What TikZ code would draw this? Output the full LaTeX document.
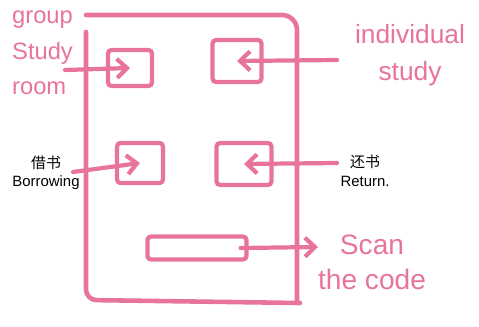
\documentclass[tikz,border=0pt]{standalone}
\usepackage{fontspec}
\setmainfont{Liberation Sans}
\newfontfamily\cjk{Noto Sans CJK SC}
\usetikzlibrary{arrows.meta}
\definecolor{markerPink}{RGB}{232,116,155}
\begin{document}
\begin{tikzpicture}[x=0.02cm, y=-0.02cm,
    mapFrame/.style={markerPink,line width=2.6pt,line cap=round},
    mapBox/.style={draw=markerPink,line width=2.4pt,rounded corners=2pt,inner sep=0pt},
    mapArrow/.style={-{Straight Barb[length=2mm,width=3.8mm]},markerPink,line width=2.4pt,line cap=round},
    mapPink/.style={text=markerPink,align=center},
    mapInk/.style={align=center,font=\fontsize{8.5}{10.5}\selectfont},
]
\useasboundingbox (0,0) rectangle (479,327);
% outer frame
\draw[mapFrame,rounded corners=6pt] (86,32) -- (86,300) -- (300,303);
\draw[mapFrame] (86,15) -- (282,15) to[out=0,in=90] (297,30) -- (297,303);
% rooms
\node[mapBox,minimum width=0.88cm,minimum height=0.72cm] (grpBox) at (130,68) {};
\node[mapBox,minimum width=0.98cm,minimum height=0.84cm] (indBox) at (237,61) {};
\node[mapBox,minimum width=0.92cm,minimum height=0.80cm] (borBox) at (140,163) {};
\node[mapBox,minimum width=1.10cm,minimum height=0.84cm] (retBox) at (244,164) {};
\node[mapBox,minimum width=1.98cm,minimum height=0.46cm] (scanBox) at (197,248) {};
% labels
\node[mapPink,align=left,anchor=north west,font=\fontsize{13.5}{20}\selectfont] (grpText) at (6,5) {group\\Study\\room};
\node[mapPink,font=\fontsize{15}{21}\selectfont] (indText) at (410,55) {individual\\study};
\node[mapPink,font=\fontsize{16}{20}\selectfont] (scanText) at (372,262) {Scan\\the code};
\node[mapInk] (borText) at (46,173) {{\cjk 借书}\\Borrowing};
\node[mapInk] (retText) at (365,171) {{\cjk 还书}\\Return.};
% arrows
\coordinate (grpTail) at (65,70);
\coordinate (indTail) at (337,60);
\coordinate (borTail) at (73,172);
\coordinate (retTail) at (337,163);
\coordinate (scanTip) at (318,247);
\draw[mapArrow] (grpTail) -- (grpBox.center);
\draw[mapArrow] (indTail) -- (indBox.center);
\draw[mapArrow] (borTail) -- (borBox.center);
\draw[mapArrow] (retTail) -- (retBox.center);
\draw[mapArrow] (scanBox.center -| scanBox.east) ++(-8,0) -- (scanTip);
\end{tikzpicture}
\end{document}
